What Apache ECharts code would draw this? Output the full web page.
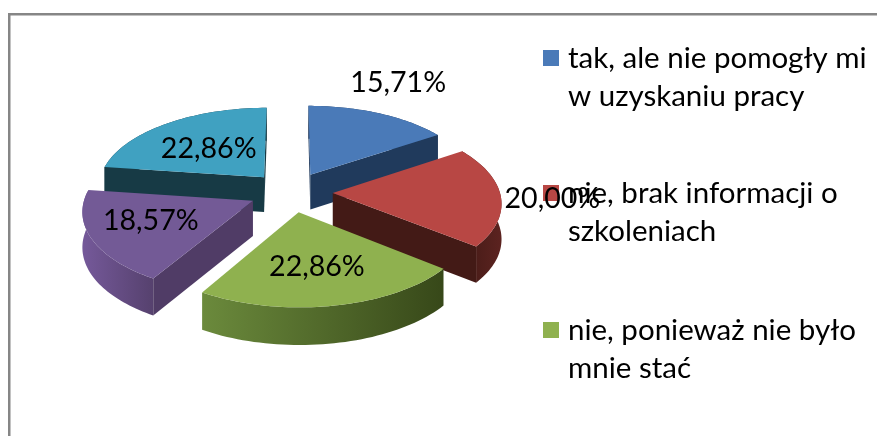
<!DOCTYPE html>
<html><head><meta charset="utf-8">
<style>html,body{margin:0;padding:0;background:#fff}#c{width:877px;height:436px}</style>
<script src="https://cdn.jsdelivr.net/npm/echarts@6/dist/echarts.min.js"></script>
</head><body><div id="c"></div>
<script>
const categories = ['tak, ale nie pomogły mi\nw uzyskaniu pracy','nie, brak informacji o\nszkoleniach','nie, ponieważ nie było\nmnie stać','d','e'];
const values = [15.71,20.00,22.86,18.57,22.86];
const legendCount = 3;
const topColors = ['#4a7ab8','#b84744','#8fb14f','#735a96','#40a1c1'];
const wallColors = ['#203a5c','#431a16','#374819','#503c66','#173a45'];
const arcLeft = ['#203a5c','#431a16','#6b8a3c','#75599a','#173a45'];
const arcRight = ['#203a5c','#5c2320','#374819','#56416e','#173a45'];
const paintOrder = [0,4,3,1,2];
const labelShift = [[45,-54],[119,4],[-2,1],[-7,-2],[5,5]];
const legendTop = [58,193,330];

const G = {cx:291,cy:192,rx:167,ry:80,k:0.109,e:0.25,d:35};
const total = values.reduce((a,b)=>a+b,0);
function dir(t){return [Math.sin(t),Math.cos(t)];}
function proj(X,Y){const s=1/(1+G.k*Y);return {x:G.cx+X*G.rx*s,y:G.cy-Y*G.ry*s,s};}
function bottom(p){return [p.x,p.y+G.d*Math.sqrt(p.s)];}
function wall(a,b,fill){return {type:'polygon',shape:{points:[[a.x,a.y],[b.x,b.y],bottom(b),bottom(a)]},style:{fill}};}
// A radial wall shows only if the rest of the slice lies above its top edge on screen.
function wallVisible(a,b,other){
  if(Math.abs(b.x-a.x)<1e-6) return false;
  const lineY=a.y+(b.y-a.y)*(other.x-a.x)/(b.x-a.x);
  return other.y<lineY;
}

function renderItem(params,api){
  const i=api.value(1), v=api.value(0);
  let start=0; for(let j=0;j<i;j++) start+=values[j];
  const a0=start/total*2*Math.PI, a1=(start+v)/total*2*Math.PI, mid=(a0+a1)/2;
  const m=dir(mid), ox=m[0]*G.e, oy=m[1]*G.e;
  const apex=proj(ox,oy);
  const arc=[]; const N=48;
  for(let n=0;n<=N;n++){const t=a0+(a1-a0)*n/N,q=dir(t);arc.push(proj(ox+q[0],oy+q[1]));}
  const children=[];
  const outer=arc.map(p=>[p.x,p.y]).concat(arc.map(bottom).reverse());
  children.push({type:'polygon',shape:{points:outer},style:{fill:{type:'linear',x:0,y:0,x2:1,y2:0,colorStops:[{offset:0,color:arcLeft[i]},{offset:1,color:arcRight[i]}]}}});
  if(wallVisible(apex,arc[0],arc[N])) children.push(wall(apex,arc[0],wallColors[i]));
  if(wallVisible(apex,arc[N],arc[0])) children.push(wall(apex,arc[N],wallColors[i]));
  children.push({type:'polygon',shape:{points:[[apex.x,apex.y]].concat(arc.map(p=>[p.x,p.y]))},style:{fill:topColors[i]}});
  const la=proj(ox+m[0]*0.6,oy+m[1]*0.6);
  children.push({type:'text',z2:100,style:{x:la.x+labelShift[i][0],y:la.y+labelShift[i][1],text:v.toFixed(2).replace('.',',')+'%',fill:'#000',font:'28.6px Lato',align:'center',verticalAlign:'middle'}});
  return {type:'group',children};
}

const graphic=[
  {type:'rect',shape:{x:8,y:13,width:869,height:2.5},style:{fill:'#868686'},silent:true},
  {type:'rect',shape:{x:8,y:13,width:2.5,height:423},style:{fill:'#868686'},silent:true}
];
for(let i=0;i<legendCount;i++){
  graphic.push({type:'rect',z:5,shape:{x:543,y:legendTop[i]-8,width:16,height:16},style:{fill:topColors[i]}});
  graphic.push({type:'text',z:6,style:{x:568,y:legendTop[i]-19,text:categories[i],fill:'#000',font:'29.5px Lato',lineHeight:38.5,align:'left',verticalAlign:'top'}});
}
const chart=echarts.init(document.getElementById('c'));
chart.setOption({animation:false,backgroundColor:'#fff',graphic,
  series:[{type:'custom',coordinateSystem:'none',renderItem,silent:true,z:10,
    data:paintOrder.map(i=>[values[i],i])}]});
</script></body></html>
